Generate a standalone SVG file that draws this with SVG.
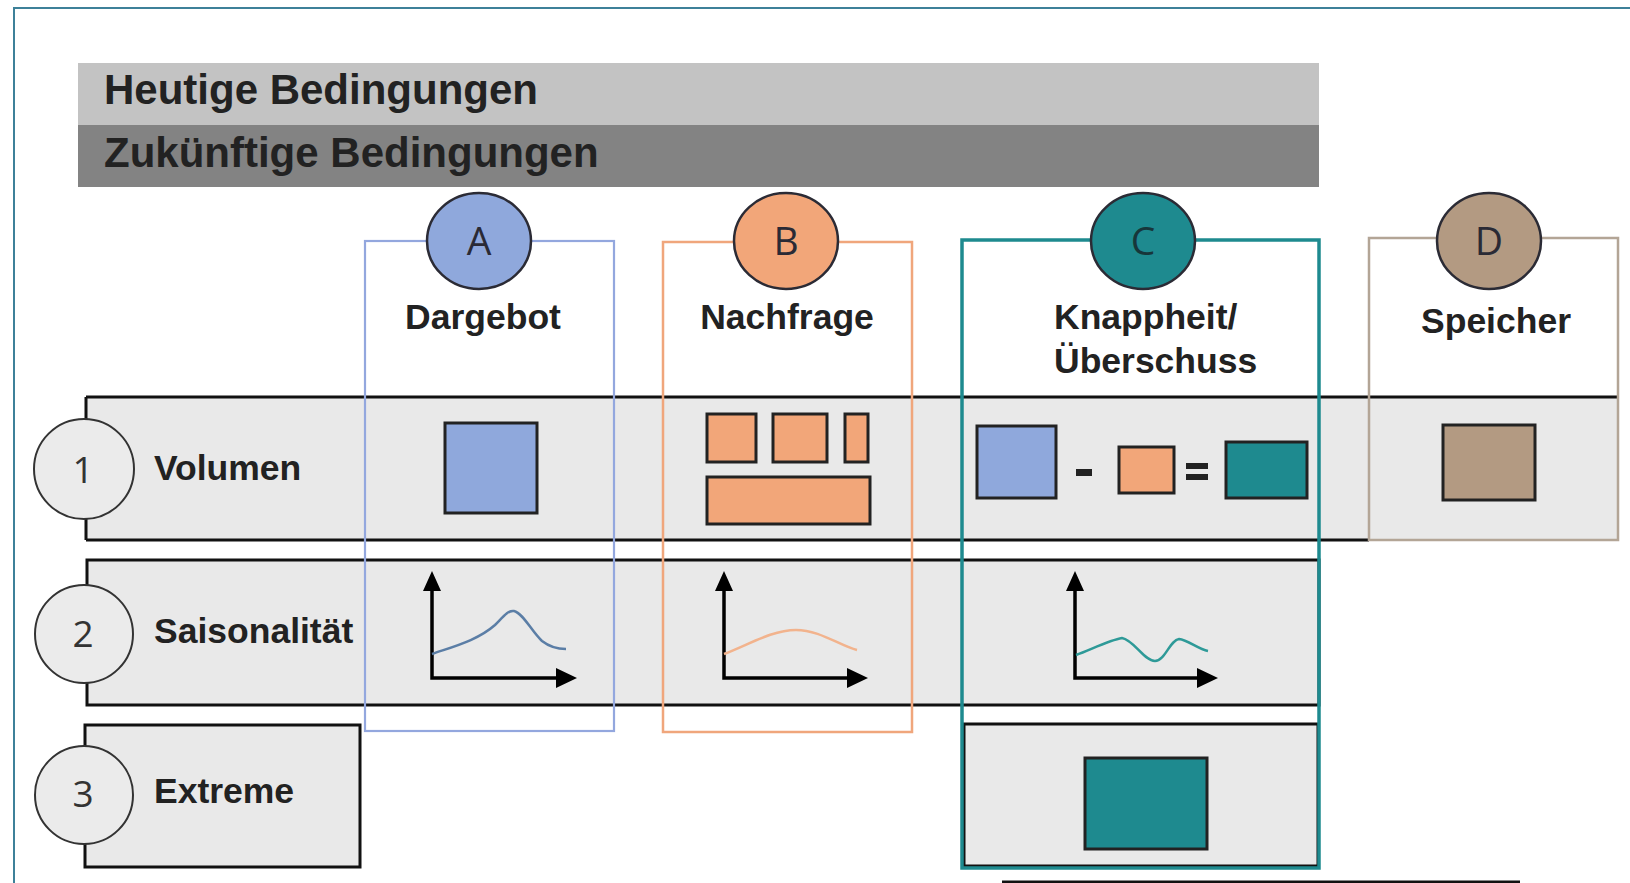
<svg xmlns="http://www.w3.org/2000/svg" width="1630" height="883" viewBox="0 0 1630 883">
<style>
.hd{font-family:"Liberation Sans",Arial,sans-serif;font-weight:bold;font-size:42px;fill:#222}
.lb{font-family:"Liberation Sans",Arial,sans-serif;font-weight:bold;font-size:35.5px;fill:#222}
.lt{font-family:"Open Sans","Noto Sans",sans-serif;font-size:39px;fill:#2a2a35;text-anchor:middle}
.nm{font-family:"Open Sans","Noto Sans",sans-serif;font-size:37px;fill:#333;text-anchor:middle}
.row{fill:#e9e9e9;stroke:#111;stroke-width:3}
.blk{stroke:#111;stroke-width:3;fill:none}
.ncirc{fill:#ebebeb;stroke:#333;stroke-width:2}
.lcirc{stroke:#2b2b35;stroke-width:2.5}
.sq{stroke:#222;stroke-width:3}
.ax{stroke:#000;stroke-width:3.5;fill:none}
.head{fill:#000}
.curve{fill:none;stroke-width:2.5}
</style>
<rect x="0" y="0" width="1630" height="883" fill="#fff"/>
<rect id="frame" x="14" y="8" width="1650" height="900" fill="none" stroke="#3d8199" stroke-width="2"/>

<g id="header-heute">
<rect x="78" y="63" width="1241" height="62" fill="#c3c3c3"/>
<text class="hd" x="104" y="104">Heutige Bedingungen</text>
</g>
<g id="header-zukunft">
<rect x="78" y="125" width="1241" height="62" fill="#838383"/>
<text class="hd" x="104" y="167">Zukünftige Bedingungen</text>
</g>

<g id="row1">
<rect x="86" y="397" width="1532" height="143" fill="#e9e9e9"/>
<path class="blk" d="M86,397 H1617 M86,397 V540 M86,540 H1369"/>
<circle class="ncirc" cx="84" cy="469" r="50"/>
<text class="nm" x="83" y="483">1</text>
<text class="lb" x="154" y="480">Volumen</text>
</g>
<g id="row2">
<rect class="row" x="87" y="560" width="1232" height="145"/>
<circle class="ncirc" cx="84" cy="634" r="49"/>
<text class="nm" x="83" y="647">2</text>
<text class="lb" x="154" y="643">Saisonalität</text>
</g>
<g id="row3">
<rect class="row" x="85" y="725" width="275" height="142"/>
<rect class="row" x="964" y="724" width="354" height="142"/>
<circle class="ncirc" cx="84" cy="795" r="49"/>
<text class="nm" x="83" y="807">3</text>
<text class="lb" x="154" y="803">Extreme</text>
</g>

<g id="colA">
<rect x="365" y="241" width="249" height="490" fill="none" stroke="#93a7de" stroke-width="2.2"/>
<ellipse class="lcirc" cx="479" cy="241" rx="52" ry="48" fill="#8fa8dc"/>
<text class="lt" x="479" y="255">A</text>
<text class="lb" x="483" y="329" text-anchor="middle">Dargebot</text>
<rect class="sq" x="445" y="423" width="92" height="90" fill="#8fa8dc"/>
<path class="ax" d="M432,590 V678 H558"/>
<path class="head" d="M423,591 L432,571 L441,591 z M556,668 L577,678 L556,688 z"/>
<path class="curve" stroke="#5b7ea6" d="M432,654 C455,646 478,640 495,625 C503,617 508,610 514,611 C523,613 532,632 542,641 C551,648 559,649 566,649"/>
</g>

<g id="colB">
<rect x="663" y="242" width="249" height="490" fill="none" stroke="#f0a67c" stroke-width="2.5"/>
<ellipse class="lcirc" cx="786" cy="241" rx="52" ry="48" fill="#f2a679"/>
<text class="lt" x="786" y="255">B</text>
<text class="lb" x="787" y="329" text-anchor="middle">Nachfrage</text>
<rect class="sq" x="707" y="414" width="49" height="48" fill="#f2a679"/>
<rect class="sq" x="773" y="414" width="54" height="48" fill="#f2a679"/>
<rect class="sq" x="845" y="414" width="23" height="48" fill="#f2a679"/>
<rect class="sq" x="707" y="477" width="163" height="47" fill="#f2a679"/>
<path class="ax" d="M724,590 V678 H850"/>
<path class="head" d="M715,591 L724,571 L733,591 z M847,668 L868,678 L847,688 z"/>
<path class="curve" stroke="#f2b38d" d="M724,654 C748,645 772,630 796,630 C820,630 840,646 857,650"/>
</g>

<g id="colC">
<rect x="962" y="240" width="357" height="628" fill="none" stroke="#1e8a8f" stroke-width="3.5"/>
<ellipse class="lcirc" cx="1143" cy="241" rx="52" ry="48" fill="#1e8a8f"/>
<text class="lt" x="1143" y="255" style="fill:#17363a">C</text>
<text class="lb" x="1054" y="329">Knappheit/</text>
<text class="lb" x="1054" y="373">Überschuss</text>
<rect class="sq" x="977" y="426" width="79" height="72" fill="#8fa8dc"/>
<rect x="1076" y="469" width="16" height="7" fill="#222"/>
<rect class="sq" x="1119" y="447" width="55" height="46" fill="#f2a679"/>
<rect x="1186" y="463" width="22" height="6" fill="#222"/>
<rect x="1186" y="474" width="22" height="6" fill="#222"/>
<rect class="sq" x="1226" y="442" width="81" height="56" fill="#1e8a8f"/>
<path class="ax" d="M1075,590 V678 H1200"/>
<path class="head" d="M1066,591 L1075,571 L1084,591 z M1197,668 L1218,678 L1197,688 z"/>
<path class="curve" stroke="#2e9a98" d="M1076,655 C1092,649 1110,640 1122,638 C1134,640 1144,661 1155,661 C1165,661 1170,640 1179,639 C1188,640 1198,649 1208,651"/>
<rect class="sq" x="1085" y="758" width="122" height="91" fill="#1e8a8f"/>
</g>

<g id="colD">
<rect x="1369" y="238" width="249" height="302" fill="none" stroke="#b3a596" stroke-width="2.5"/>
<ellipse class="lcirc" cx="1489" cy="241" rx="52" ry="48" fill="#b39a82"/>
<text class="lt" x="1489" y="255">D</text>
<text class="lb" x="1496" y="333" text-anchor="middle">Speicher</text>
<rect class="sq" x="1443" y="425" width="92" height="75" fill="#b39a82"/>
</g>

<g id="connectors">
<line x1="1002" y1="882" x2="1520" y2="882" stroke="#111" stroke-width="3"/>
</g>
</svg>
